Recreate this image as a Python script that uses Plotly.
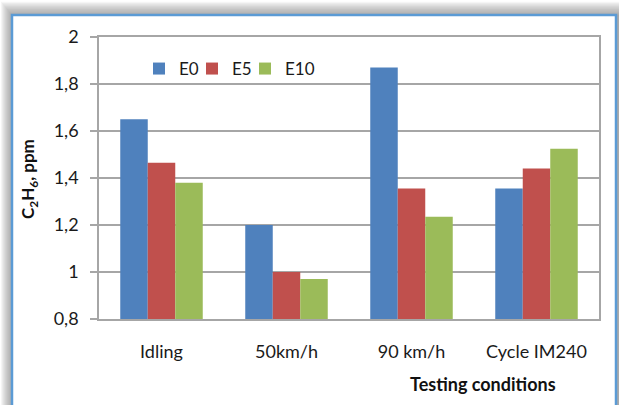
import plotly.graph_objects as go

# Ethane concentration by testing condition and fuel blend
conditions = ["Idling", "50km/h", "90 km/h", "Cycle IM240"]
e0 = [1.65, 1.20, 1.87, 1.355]
e5 = [1.465, 1.00, 1.355, 1.44]
e10 = [1.38, 0.97, 1.235, 1.525]

y_ticks = [0.8, 1.0, 1.2, 1.4, 1.6, 1.8, 2.0]
y_tick_labels = ["0,8", "1", "1,2", "1,4", "1,6", "1,8", "2"]

series = [("E0", e0, "#4F81BD"), ("E5", e5, "#C0504D"), ("E10", e10, "#9BBB59")]
legend_ids = ["legend", "legend2", "legend3"]
legend_left_px = [139, 192, 245]

W, H = 619, 405
L, R, T, B = 99, 20, 37, 86
pw, ph = W - L - R, H - T - B

FONT = "Lato, Open Sans, sans-serif"
TXT = "#1a1a1a"


def px_x(x):
    return (x - L) / pw


def px_y(y):
    return (H - B - y) / ph


fig = go.Figure()
for (name, vals, col), lid in zip(series, legend_ids):
    fig.add_trace(go.Bar(x=conditions, y=vals, name=name, legend=lid,
                         marker=dict(color=col, line=dict(width=0))))

shapes = []
# soft drop shadow along the top and left of the chart frame
for i in range(12):
    shapes.append(dict(type="rect", xref="paper", yref="paper", layer="below",
                       x0=px_x(12 - i), x1=px_x(W + 5), y0=px_y(H + 10), y1=px_y(15 - i * 1.2),
                       fillcolor="rgba(120,120,120,0.075)", line=dict(width=0)))
# white chart frame with blue border
shapes.append(dict(type="rect", xref="paper", yref="paper", layer="below",
                   x0=px_x(12), x1=px_x(616), y0=px_y(H + 10), y1=px_y(15),
                   fillcolor="white", line=dict(color="#5B9BD5", width=2.5)))

legend_style = dict(orientation="h", xanchor="left", yanchor="top", y=px_y(51),
                    bgcolor="rgba(0,0,0,0)", font=dict(family=FONT, size=17, color=TXT),
                    itemwidth=30)
legends = {lid: dict(legend_style, x=px_x(xp)) for lid, xp in zip(legend_ids, legend_left_px)}

fig.update_layout(
    width=W, height=H,
    margin=dict(l=L, r=R, t=T, b=B),
    paper_bgcolor="white",
    plot_bgcolor="rgba(0,0,0,0)",
    font=dict(family=FONT, size=17, color=TXT),
    barmode="group",
    bargap=0.34,
    bargroupgap=0,
    shapes=shapes,
    showlegend=True,
    xaxis=dict(showline=True, linecolor="#A6A6A6", linewidth=1.5, mirror=True,
               ticks="", ticklabelstandoff=16, showgrid=False,
               tickfont=dict(family=FONT, size=18, color=TXT)),
    yaxis=dict(range=[0.8, 2.0], tickvals=y_ticks, ticktext=y_tick_labels,
               showline=True, linecolor="#A6A6A6", linewidth=1.5, mirror=True,
               ticks="outside", ticklen=7, tickcolor="#A6A6A6", tickwidth=1.5,
               ticklabelstandoff=8,
               showgrid=True, gridcolor="#A6A6A6", gridwidth=1.5, zeroline=False,
               tickfont=dict(family=FONT, size=18, color=TXT)),
    annotations=[
        dict(text="<b>C<sub>2</sub>H<sub>6</sub>, ppm</b>", xref="paper", yref="paper",
             x=px_x(29), y=px_y(179), xanchor="center", yanchor="middle",
             textangle=-90, showarrow=False,
             font=dict(family=FONT, size=17, color="#111")),
        dict(text="<b>Testing conditions</b>", xref="paper", yref="paper",
             x=px_x(483), y=px_y(384), xanchor="center", yanchor="middle",
             showarrow=False,
             font=dict(family=FONT, size=18, color="#111")),
    ],
)
fig.update_layout(**legends)

fig.write_html("out.html")
